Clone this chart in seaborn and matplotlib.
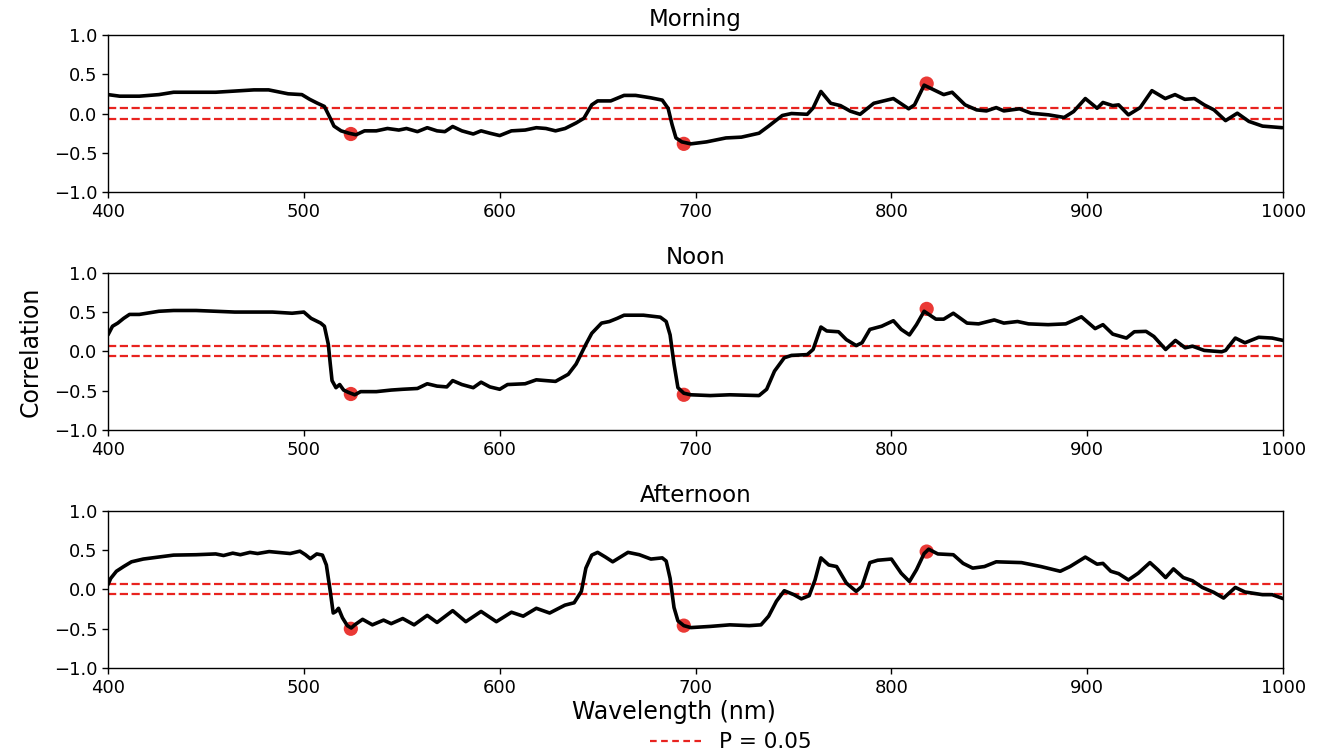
import numpy as np
import pandas as pd
import matplotlib
matplotlib.use("Agg")
import matplotlib.pyplot as plt
import seaborn as sns
from matplotlib.lines import Line2D

titles = ["Morning", "Noon", "Afternoon"]

morning_wl = [400, 406, 416, 426, 433.5, 447, 455, 474.5, 482, 492, 499, 503, 507, 510.5, 513.5, 515.4, 519, 523, 526.7,
              531, 537, 542.7, 548.5, 552.4, 558, 563, 568, 572, 576, 580.7, 586.5, 590.5, 595, 600, 606, 613, 618.7,
              623.6, 628.5, 633.4, 639, 643, 647, 650, 656.7, 663.5, 669.4, 677, 683, 686, 688, 690, 693,
              697.6, 705.6, 715.5, 723.4, 732.4, 737.3, 744.3, 749, 757, 760, 764, 769, 774, 779, 784, 791, 801,
              808.8, 811.8, 816.7, 821.7, 826.7, 831, 837.6, 843.5, 848.5, 853.5, 857.4, 865.4, 871.3, 880.3, 888.2,
              893, 899, 905, 908, 913, 916, 921, 927, 933, 939.8, 944.8, 949.8, 954.7, 959.7, 964.7, 970.6, 976.6,
              982.5, 989.5, 999.5]
morning_r = [0.24, 0.22, 0.22, 0.24, 0.27, 0.27, 0.27, 0.30, 0.30, 0.25, 0.24, 0.18, 0.13, 0.09, -0.06, -0.16, -0.22,
             -0.25, -0.27, -0.22, -0.22, -0.19, -0.21, -0.19, -0.23, -0.18, -0.22, -0.23, -0.165, -0.22, -0.26,
             -0.22, -0.25, -0.28, -0.22, -0.21, -0.18, -0.19, -0.22, -0.19, -0.12, -0.06, 0.11, 0.16, 0.16, 0.23,
             0.23, 0.20, 0.17, 0.065, -0.14, -0.31, -0.36,
             -0.385, -0.36, -0.31, -0.30, -0.25, -0.16, -0.025, 0.0, -0.01, 0.07, 0.28, 0.13, 0.10, 0.03, -0.01,
             0.13, 0.19, 0.06, 0.11, 0.36, 0.30, 0.24, 0.27, 0.11, 0.046, 0.033, 0.075, 0.033, 0.06, 0.004, -0.017,
             -0.05, 0.025, 0.19, 0.067, 0.14, 0.10, 0.11, -0.017, 0.075, 0.29, 0.19, 0.24, 0.18, 0.19, 0.11, 0.046,
             -0.09, 0.004, -0.10, -0.16, -0.18]

noon_wl = [400, 402.3, 405, 408, 411, 416, 426, 433.5, 445, 455, 464.7, 474.5, 484, 494, 500, 503.7, 508.6, 510.5,
           512.5, 513.5, 514.4, 516.4, 518.3, 520.3, 522.8, 526, 529, 537, 544.6, 550.5, 558, 563, 568, 573, 576,
           580.7, 586.5, 590.5, 595, 600, 604, 613, 618.7, 628.5, 635, 639, 644, 647, 652, 656, 660, 663.5, 673.4,
           682, 685, 687, 689, 691, 694,
           697.6, 707.5, 717.5, 732.4, 736.3, 740.3, 745.3, 749, 757, 760, 764, 767, 773, 777, 782, 785, 789, 795,
           801, 805, 809.2, 812.8, 816.7, 822.7, 826.7, 831.6, 838.6, 844.5, 852.5, 857.4, 864.4, 870, 880, 889,
           897, 904, 908, 913, 920, 924, 930, 934, 940, 945, 950, 953.7, 959.7, 968.6, 970.6, 975.6, 980.5, 987.5,
           994.4, 1000]
noon_r = [0.21, 0.32, 0.36, 0.42, 0.47, 0.47, 0.51, 0.52, 0.52, 0.51, 0.50, 0.50, 0.50, 0.485, 0.50, 0.42, 0.36,
          0.32, 0.09, -0.16, -0.37, -0.46, -0.42, -0.49, -0.52, -0.55, -0.51, -0.51, -0.49, -0.48, -0.47, -0.41,
          -0.44, -0.45, -0.37, -0.42, -0.46, -0.39, -0.45, -0.48, -0.42, -0.41, -0.36, -0.38, -0.29, -0.16, 0.09,
          0.23, 0.36, 0.38, 0.42, 0.46, 0.46, 0.435, 0.38, 0.21, -0.16, -0.46, -0.53,
          -0.55, -0.56, -0.55, -0.56, -0.48, -0.25, -0.08, -0.05, -0.04, 0.025, 0.31, 0.26, 0.25, 0.15, 0.075,
          0.11, 0.28, 0.32, 0.39, 0.28, 0.21, 0.34, 0.51, 0.41, 0.41, 0.485, 0.36, 0.35, 0.40, 0.36, 0.38, 0.35,
          0.34, 0.35, 0.44, 0.29, 0.34, 0.22, 0.17, 0.25, 0.255, 0.19, 0.025, 0.14, 0.046, 0.067, 0.013, -0.004,
          0.013, 0.17, 0.11, 0.18, 0.17, 0.14]

afternoon_wl = [400, 401.4, 404.3, 408, 412, 418, 425.7, 433.5, 445, 455, 459, 463.7, 467.6, 472.5, 476.4, 482.3,
                493, 498, 500.8, 503.3, 506.6, 509.5, 511.5, 513.5, 515, 516.4, 517.7, 519.7, 522.2, 524.2, 526,
                530, 535, 540.7, 544.6, 550.5, 556.3, 563, 568, 576, 582.7, 590.5, 598.3, 606, 612, 618.7, 625.5,
                633.3, 638, 641.7, 644, 647, 650, 654, 657.7, 665.5, 671.3, 677.2, 683, 685, 687, 689, 691, 694,
                697.6, 707.5, 717.5, 727.4, 733.4, 737.3, 741.3, 745.3, 750.2, 754, 758, 761, 764, 768, 772, 777,
                782, 785, 789, 793, 800, 805, 809.2, 812.8, 816.7, 819, 823.7, 831.6, 836.6, 841.5, 847.5, 853.5,
                866.4, 876.3, 886.2, 891.2, 899, 905, 908, 912, 916, 921, 926, 932, 936, 940, 944, 949, 953.7,
                958.7, 964.6, 969.6, 975.6, 980.5, 989.5, 994.4, 1000]
afternoon_r = [0.06, 0.14, 0.23, 0.29, 0.35, 0.385, 0.41, 0.435, 0.44, 0.45, 0.43, 0.46, 0.44, 0.47, 0.455, 0.48,
               0.455, 0.485, 0.44, 0.39, 0.45, 0.435, 0.31, -0.025, -0.30, -0.28, -0.24, -0.36, -0.46, -0.49,
               -0.45, -0.38, -0.45, -0.39, -0.435, -0.37, -0.45, -0.33, -0.42, -0.27, -0.41, -0.28, -0.41, -0.29,
               -0.34, -0.24, -0.30, -0.20, -0.17, -0.025, 0.27, 0.435, 0.47, 0.41, 0.35, 0.47, 0.44, 0.385, 0.40,
               0.36, 0.14, -0.23, -0.40, -0.46,
               -0.485, -0.47, -0.45, -0.46, -0.45, -0.34, -0.15, -0.017, -0.067, -0.12, -0.08, 0.12, 0.40, 0.31,
               0.29, 0.08, -0.025, 0.04, 0.34, 0.37, 0.385, 0.205, 0.10, 0.25, 0.455, 0.51, 0.45, 0.44, 0.33, 0.27,
               0.29, 0.35, 0.34, 0.29, 0.23, 0.29, 0.41, 0.32, 0.33, 0.23, 0.20, 0.12, 0.205, 0.34, 0.25, 0.15,
               0.26, 0.15, 0.11, 0.025, -0.038, -0.11, 0.025, -0.033, -0.067, -0.067, -0.117]

dot_wl = [524, 694, 818]
morning_dots = [-0.26, -0.385, 0.38]
noon_dots = [-0.54, -0.55, 0.54]
afternoon_dots = [-0.50, -0.46, 0.48]

p_threshold = 0.064
x_ticks = [400, 500, 600, 700, 800, 900, 1000]
y_ticks = [-1.0, -0.5, 0.0, 0.5, 1.0]

series = [(morning_wl, morning_r, morning_dots),
          (noon_wl, noon_r, noon_dots),
          (afternoon_wl, afternoon_r, afternoon_dots)]

sns.set_style("ticks")
plt.rcParams['font.family'] = ['DejaVu Sans']
plt.rcParams['text.color'] = 'black'
plt.rcParams['axes.labelcolor'] = 'black'
plt.rcParams['xtick.color'] = 'black'
plt.rcParams['ytick.color'] = 'black'

fig, axes = plt.subplots(3, 1, figsize=(13.38, 7.55), dpi=100)
fig.subplots_adjust(left=0.0807, right=0.959, top=0.954, bottom=0.115, hspace=0.51)

for ax, title, (wl, r, dots) in zip(axes, titles, series):
    df = pd.DataFrame({"wl": wl, "r": r})
    sns.lineplot(data=df, x="wl", y="r", ax=ax, color="black", linewidth=2.6, sort=False,
                 estimator=None, zorder=3)
    dd = pd.DataFrame({"wl": dot_wl, "r": dots})
    sns.scatterplot(data=dd, x="wl", y="r", ax=ax, color="#e8231f", s=105, alpha=0.9,
                    edgecolor="none", zorder=2)
    for yv in (p_threshold, -p_threshold):
        ax.axhline(yv, color="#e8231f", linestyle="--", linewidth=1.6, zorder=1)
    ax.set_xlim(400, 1000)
    ax.set_ylim(-1.0, 1.0)
    ax.set_xticks(x_ticks)
    ax.set_yticks(y_ticks)
    ax.tick_params(labelsize=13, length=4, width=1, colors="black")
    ax.set_title(title, fontsize=16.5, pad=6, color="black")
    ax.set_xlabel("")
    ax.set_ylabel("")
    for s in ax.spines.values():
        s.set_visible(True)
        s.set_linewidth(1.0)
        s.set_color("black")

axes[1].set_ylabel("Correlation", fontsize=17, labelpad=8)
axes[2].set_xlabel("Wavelength (nm)", fontsize=17, labelpad=3)
axes[2].xaxis.set_label_coords(0.482, -0.2)

handle = Line2D([0], [0], color="#e8231f", linestyle="--", linewidth=1.6, dashes=(3, 2))
fig.legend([handle], ["P = 0.05"], loc="lower center", bbox_to_anchor=(0.546, -0.022),
           frameon=False, fontsize=15.5, handlelength=2.4)

fig.savefig("out.png", dpi=100)
